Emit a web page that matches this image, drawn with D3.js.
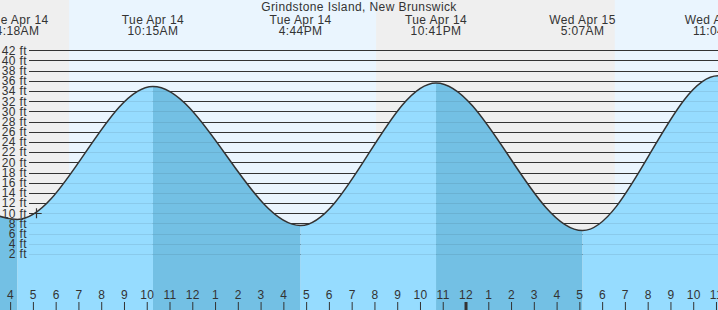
<!DOCTYPE html>
<html>
<head>
<meta charset="utf-8">
<script src="https://cdn.jsdelivr.net/npm/d3@7"></script>
<style>
  body { margin: 0; background: #fff; }
  svg { display: block; font-family: "Liberation Sans", Arial, sans-serif; }
  svg text { letter-spacing: 0.4px; }
</style>
</head>
<body>
<div id="chart"></div>
<script>
// Tide events (high / low), plus one on each side off-screen
const tideTimes = ["2026-04-13T22:05", "2026-04-14T04:18", "2026-04-14T10:15", "2026-04-14T16:44",
                   "2026-04-14T22:41", "2026-04-15T05:07", "2026-04-15T11:04", "2026-04-15T17:30"];
const tideHeights = [35.2, 8.8, 34.9, 7.6, 35.6, 6.6, 37.0, 5.5];

// Sunrise / sunset
const sunTimes = ["2026-04-14T06:34", "2026-04-14T20:03", "2026-04-15T06:32"];
const sunKinds = ["rise", "set", "rise"];

// Y axis ticks (feet)
const ftTicks = d3.range(2, 43, 2);

// Current time marker
const nowTime = "2026-04-14T05:06";
const nowHeight = 10;

const title = "Grindstone Island, New Brunswick";

const width = 718, height = 310;
const parse = d3.timeParse("%Y-%m-%dT%H:%M");
const events = tideTimes.map((t, i) => ({ t: parse(t), h: tideHeights[i] }));
const sun = sunTimes.map((t, i) => ({ t: parse(t), kind: sunKinds[i] }));

const x = d3.scaleTime()
  .domain([parse("2026-04-14T03:32"), parse("2026-04-15T11:04")])
  .range([0, width]);
const y = d3.scaleLinear().domain([0, 42]).range([264.2, 50.3]);

const svg = d3.select("#chart").append("svg")
  .attr("width", width)
  .attr("height", height);

// Day / night background above the tide
svg.append("rect").attr("width", width).attr("height", height).attr("fill", "#eaf5fe");
const nights = [];
let start = x.domain()[0];
sun.forEach(s => {
  if (s.kind === "rise") { nights.push([start, s.t]); }
  else { start = s.t; }
});
if (sun[sun.length - 1].kind === "set") nights.push([start, x.domain()[1]]);
svg.selectAll(".night")
  .data(nights)
  .enter().append("rect")
  .attr("class", "night")
  .attr("x", d => x(d[0]))
  .attr("width", d => x(d[1]) - x(d[0]))
  .attr("y", 0)
  .attr("height", height)
  .attr("fill", "#efefef");

// Dark gridlines (visible above the water)
svg.selectAll(".grid")
  .data(ftTicks)
  .enter().append("line")
  .attr("class", "grid")
  .attr("x1", 29).attr("x2", width)
  .attr("y1", d => Math.round(y(d)) + 0.5)
  .attr("y2", d => Math.round(y(d)) + 0.5)
  .attr("stroke", "#333")
  .attr("stroke-width", 1);

// Water area
const area = d3.area()
  .x(d => x(d.t))
  .y0(height)
  .y1(d => y(d.h))
  .curve(d3.curveMonotoneX);
const line = d3.line()
  .x(d => x(d.t))
  .y(d => y(d.h))
  .curve(d3.curveMonotoneX);

svg.append("clipPath").attr("id", "water")
  .append("path").attr("d", area(events));

const water = svg.append("g").attr("clip-path", "url(#water)");
const segs = d3.pairs(events);
water.selectAll(".seg")
  .data(segs)
  .enter().append("rect")
  .attr("class", "seg")
  .attr("x", d => x(d[0].t))
  .attr("width", d => x(d[1].t) - x(d[0].t))
  .attr("y", 0)
  .attr("height", height)
  .attr("fill", d => d[1].h < d[0].h ? "#73c0e4" : "#96dcff");

water.selectAll(".wgrid")
  .data(ftTicks)
  .enter().append("line")
  .attr("class", "wgrid")
  .attr("x1", 29).attr("x2", width)
  .attr("y1", d => Math.round(y(d)) + 0.5)
  .attr("y2", d => Math.round(y(d)) + 0.5)
  .attr("stroke", "#000")
  .attr("stroke-opacity", 0.08);

svg.append("path")
  .attr("d", line(events))
  .attr("fill", "none")
  .attr("stroke", "#333")
  .attr("stroke-width", 1.5);

// Y labels
svg.selectAll(".ylab")
  .data(ftTicks)
  .enter().append("text")
  .attr("class", "ylab")
  .attr("x", 27)
  .attr("y", d => y(d))
  .attr("dy", "0.36em")
  .attr("text-anchor", "end")
  .attr("fill", "#333")
  .style("font-size", "12px")
  .text(d => d + " ft");

// Title
svg.append("text")
  .attr("x", width / 2).attr("y", 11)
  .attr("text-anchor", "middle")
  .attr("fill", "#333")
  .style("font-size", "12px")
  .text(title);

// High / low labels
const fmtDay = d3.timeFormat("%a %b %-d");
const fmtTime = d3.timeFormat("%-I:%M%p");
const shown = events.filter(d => d.t >= x.domain()[0] && d.t <= parse("2026-04-15T11:30"));
const ev = svg.selectAll(".ev")
  .data(shown)
  .enter().append("g")
  .attr("class", "ev")
  .attr("transform", d => `translate(${x(d.t)},0)`);
ev.append("text")
  .attr("y", 23.5)
  .attr("text-anchor", "middle")
  .attr("fill", "#333")
  .style("font-size", "12px")
  .text(d => fmtDay(d.t));
ev.append("text")
  .attr("y", 35)
  .attr("text-anchor", "middle")
  .attr("fill", "#333")
  .style("font-size", "12px")
  .text(d => fmtTime(d.t));

// Hour axis
const hours = d3.timeHour.range(parse("2026-04-14T04:00"), parse("2026-04-15T11:30"));
const hx = svg.selectAll(".hr")
  .data(hours)
  .enter().append("g")
  .attr("class", "hr")
  .attr("transform", d => `translate(${x(d)},0)`);
hx.append("line")
  .attr("y1", 302).attr("y2", height)
  .attr("stroke", "#333")
  .attr("stroke-width", d => d.getHours() === 0 ? 3 : 1);
hx.append("text")
  .attr("y", 299)
  .attr("text-anchor", "middle")
  .attr("fill", "#333")
  .style("font-size", "12px")
  .text(d => d3.timeFormat("%-I")(d));

// Current time marker
const nowX = x(parse(nowTime));
const nowY = y(nowHeight);
svg.append("path")
  .attr("d", `M${nowX - 6},${Math.round(nowY) + 0.5}H${nowX + 6}M${Math.round(nowX) + 0.5},${nowY - 5}V${nowY + 5}`)
  .attr("stroke", "#333")
  .attr("stroke-width", 1.2);
</script>
</body>
</html>
